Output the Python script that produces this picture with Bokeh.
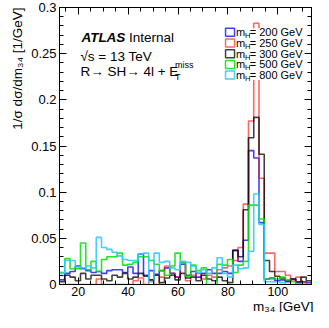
import numpy as np
from bokeh.plotting import figure
from bokeh.models import FixedTicker, LinearAxis, Label, CustomJSTickFormatter, Range1d, Title
from bokeh.embed import file_html
from bokeh.resources import INLINE

# ---------------- data ----------------
m34_lo, m34_hi, n_bins = 12.5, 113.5, 48
y_max = 0.3

h_200 = [0.005, 0.012, 0.014, 0.020, 0.017, 0.015, 0.013, 0.014, 0.012, 0.015,
         0.016, 0.016, 0.013, 0.019, 0.012, 0.033, 0.010, 0.015, 0.011, 0.015,
         0.018, 0.012, 0.008, 0.022, 0.010, 0.014, 0.008, 0.012, 0.016, 0.012,
         0.012, 0.014, 0.012, 0.037, 0.025, 0.048, 0.145, 0.137, 0.067, 0.006,
         0.007, 0.004, 0.005, 0.003, 0.006, 0.002, 0.003, 0.002]
h_250 = [0.0, 0.0, 0.0, 0.0, 0.0, 0.0, 0.0, 0.006, 0.0, 0.0,
         0.0, 0.0, 0.0, 0.0, 0.004, 0.007, 0.0, 0.005, 0.0, 0.008,
         0.020, 0.012, 0.008, 0.024, 0.004, 0.010, 0.012, 0.006, 0.010, 0.008,
         0.016, 0.018, 0.020, 0.026, 0.040, 0.087, 0.177, 0.283, 0.115, 0.034,
         0.034, 0.014, 0.014, 0.010, 0.005, 0.008, 0.002, 0.0]
h_300 = [0.003, 0.010, 0.008, 0.004, 0.012, 0.006, 0.010, 0.010, 0.006, 0.004,
         0.010, 0.008, 0.012, 0.006, 0.008, 0.012, 0.009, 0.005, 0.010, 0.002,
         0.007, 0.010, 0.005, 0.012, 0.007, 0.008, 0.004, 0.010, 0.006, 0.004,
         0.008, 0.004, 0.002, 0.037, 0.030, 0.081, 0.159, 0.181, 0.141, 0.026,
         0.014, 0.009, 0.007, 0.004, 0.006, 0.003, 0.008, 0.004]
h_500 = [0.013, 0.028, 0.017, 0.017, 0.045, 0.016, 0.025, 0.014, 0.027, 0.030,
         0.030, 0.034, 0.021, 0.022, 0.024, 0.030, 0.030, 0.026, 0.022, 0.015,
         0.010, 0.020, 0.034, 0.024, 0.009, 0.021, 0.015, 0.018, 0.0, 0.0,
         0.022, 0.021, 0.027, 0.013, 0.021, 0.025, 0.086, 0.086, 0.071, 0.006,
         0.006, 0.006, 0.008, 0.005, 0.003, 0.0, 0.0, 0.0]
h_800 = [0.012, 0.026, 0.026, 0.019, 0.018, 0.020, 0.018, 0.051, 0.040, 0.038,
         0.035, 0.031, 0.027, 0.026, 0.026, 0.033, 0.034, 0.003, 0.034, 0.024,
         0.025, 0.018, 0.016, 0.025, 0.024, 0.020, 0.013, 0.016, 0.012, 0.018,
         0.029, 0.012, 0.008, 0.021, 0.017, 0.018, 0.036, 0.098, 0.065, 0.003,
         0.003, 0.003, 0.002, 0.0, 0.0, 0.0, 0.0, 0.0]

mass_labels = ["200", "250", "300", "500", "800"]
series = [h_200, h_250, h_300, h_500, h_800]
line_colors = ["#0000ff", "#ff0000", "#000000", "#00e000", "#33c8ff"]
line_alphas = [0.75, 0.6, 0.75, 0.85, 0.9]

x_major = [20, 40, 60, 80, 100]
x_minor = list(range(15, 115, 5))
y_major = [0, 0.05, 0.1, 0.15, 0.2, 0.25, 0.3]
y_minor = [round(0.01 * i, 2) for i in range(31)]

x_title = "m\u2083\u2084 [GeV]"
y_title = "1/\u03c3 d\u03c3/dm\u2083\u2084 [1/GeV]"

FONT = "Liberation Sans"

# ------------- figure -------------
p = figure(width=313, height=312,
           x_range=Range1d(m34_lo, m34_hi), y_range=Range1d(0, y_max),
           output_backend="svg", toolbar_location=None,
           min_border_left=59, min_border_right=2, min_border_top=7, min_border_bottom=28)
p.xgrid.visible = False
p.ygrid.visible = False
p.outline_line_color = "black"
p.outline_line_width = 1
p.background_fill_color = "white"
p.border_fill_color = "white"

xticker = FixedTicker(ticks=x_major, minor_ticks=x_minor)
yticker = FixedTicker(ticks=y_major, minor_ticks=y_minor)


def style_axis(ax, show):
    ax.major_tick_in = 7
    ax.major_tick_out = 0
    ax.minor_tick_in = 4
    ax.minor_tick_out = 0
    ax.axis_line_color = "black"
    ax.major_tick_line_color = "black"
    ax.minor_tick_line_color = "black"
    if show:
        ax.major_label_text_font = FONT
        ax.major_label_text_color = "black"
    else:
        ax.major_label_text_font_size = "0px"
        ax.major_label_standoff = 0
        ax.major_label_text_color = None


p.xaxis.ticker = xticker
p.yaxis.ticker = yticker
style_axis(p.xaxis[0], True)
style_axis(p.yaxis[0], True)
p.xaxis.major_label_text_font_size = "12.5px"
p.xaxis.major_label_standoff = 2
p.yaxis.major_label_text_font_size = "13px"
p.yaxis.major_label_standoff = 3
p.yaxis.formatter = CustomJSTickFormatter(code="return String(Math.round(tick*100)/100);")

top_ax = LinearAxis(ticker=xticker)
style_axis(top_ax, False)
p.add_layout(top_ax, "above")
right_ax = LinearAxis(ticker=yticker)
style_axis(right_ax, False)
p.add_layout(right_ax, "right")

# axis titles (ROOT style: at the end of each axis)
p.add_layout(Title(text=x_title, align="right", text_font=FONT, text_font_size="13.5px",
                   text_font_style="normal", text_color="black", standoff=-4, offset=-2), "below")
p.add_layout(Title(text=y_title, align="right", text_font=FONT, text_font_size="13.5px",
                   text_font_style="normal", text_color="black", standoff=8), "left")

# ------------- histograms -------------
edges = np.linspace(m34_lo, m34_hi, n_bins + 1)
for vals, c, a in zip(series, line_colors, line_alphas):
    yv = np.append(np.asarray(vals, dtype=float), vals[-1])
    p.step(x=edges, y=yv, mode="after", line_color=c, line_alpha=a, line_width=1.6)

# ------------- annotation helpers (reference pixel -> data) -------------
REF_X0, REF_PX_PER_GEV = 66.7, 2.5426
REF_Y0, REF_PX_PER_UNIT = 297.0, 948.0


def gx(px):
    return m34_lo + (px - REF_X0) / REF_PX_PER_GEV


def gy(py):
    return (REF_Y0 - py) / REF_PX_PER_UNIT


def label(px, py, text, size, style="normal", align="left"):
    p.add_layout(Label(x=gx(px), y=gy(py), text=text, text_font=FONT,
                       text_font_size=f"{size}px", text_font_style=style,
                       text_align=align, text_baseline="middle", text_color="black"))


# ------------- legend -------------
p.quad(left=[gx(234)], right=[m34_hi], top=[gy(34)], bottom=[gy(87)],
       fill_color="white", line_color=None)
rows = [38 + 11 * i for i in range(len(mass_labels))]
p.rect(x=[gx(240.5)] * len(rows), y=[gy(r) for r in rows], width=9, height=8,
       width_units="screen", height_units="screen", fill_color=None,
       line_color=line_colors, line_alpha=line_alphas, line_width=1.5)
for r, m in zip(rows, mass_labels):
    label(246.5, r, "m", 11)
    label(255.8, r + 3.5, "H", 7.5)
    label(260.5, r, f"= {m} GeV", 11)

# ------------- ATLAS texts -------------
label(89, 43, "ATLAS", 13.5, style="bold italic")
label(137.5, 43, "Internal", 13.5)
label(88, 62.5, "\u221as  = 13 TeV", 13.5)
label(88, 78, "R\u2192 SH\u2192 4l + E", 13.5)
label(184.5, 72, "miss", 9)
label(184.5, 84, "T", 9)

open("out.html", "w").write(file_html(p, INLINE))
